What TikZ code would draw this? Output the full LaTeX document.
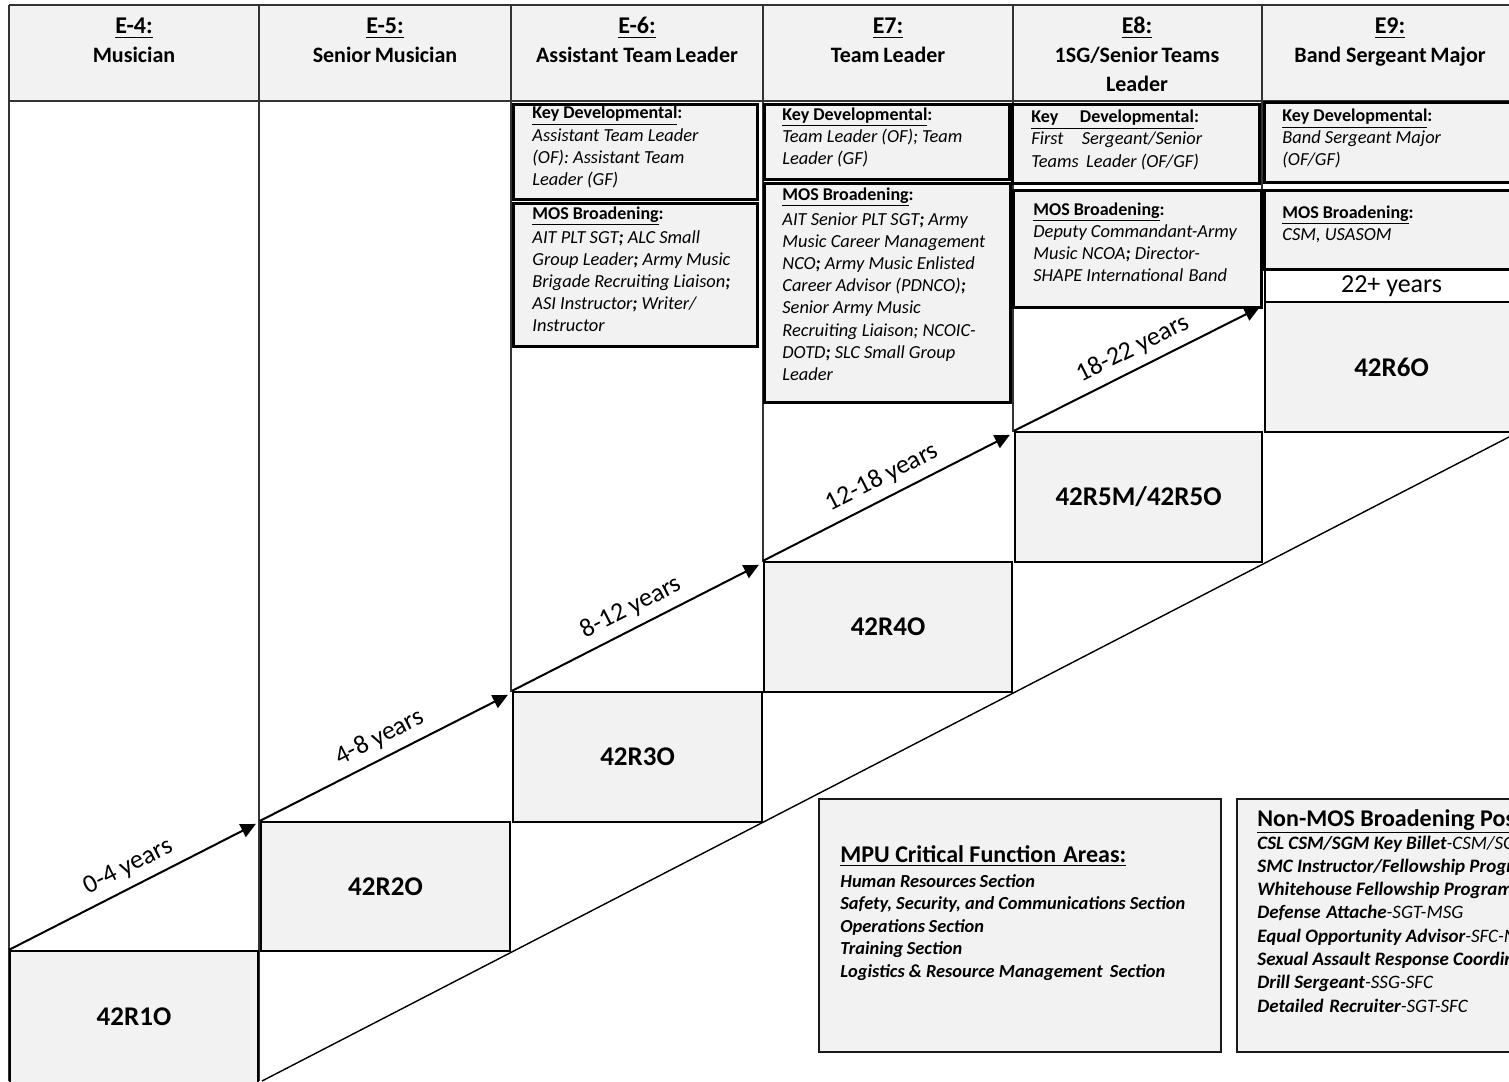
\documentclass[tikz,border=0pt]{standalone}
\usepackage{fontspec}
\setmainfont{Carlito}
\usetikzlibrary{arrows.meta,fit}
\definecolor{boxgray}{HTML}{F2F2F2}
\newcommand\txtlines[6][itl]{\foreach \t [count=\i] in {#6}{\node[#1] (#2-\i) at (#3,{#4+#5*(\i-1)}) {\t};}}
\begin{document}
\begin{tikzpicture}[x=0.5pt,y=-0.5pt,
 sep/.style={draw=black!80, line width=0.8pt},
 codebox/.style={draw=black, line width=1.1pt, fill=boxgray, inner sep=0pt},
 codetext/.style={font=\fontsize{13.5}{15}\selectfont\bfseries, inner sep=0pt, anchor=center},
 infobox/.style={draw=black, line width=1.5pt, fill=boxgray, inner sep=0pt},
 bigbox/.style={draw=black!90, line width=1.1pt, fill=boxgray, inner sep=0pt},
 hgrade/.style={font=\fontsize{12}{14}\selectfont\bfseries, anchor=base, inner sep=0pt},
 hname/.style={font=\fontsize{11}{13}\selectfont\bfseries, anchor=base, inner sep=0pt},
 ttl/.style={font=\fontsize{9}{11}\selectfont\bfseries, anchor=base west, inner sep=0pt},
 itl/.style={font=\fontsize{9.2}{11}\selectfont\itshape, anchor=base west, inner sep=0pt},
 bigttl/.style={font=\fontsize{12}{14}\selectfont\bfseries, anchor=base west, inner sep=0pt},
 mpuitem/.style={font=\fontsize{9.2}{11}\selectfont\bfseries\itshape, anchor=base west, inner sep=0pt},
 nmitem/.style={font=\fontsize{9.5}{11}\selectfont\itshape, anchor=base west, inner sep=0pt},
 yrs/.style={font=\fontsize{13}{15}\selectfont, sloped, pos=0.52, above=4pt, inner sep=0pt},
 arr/.style={-{Triangle[length=7.5pt,width=7pt]}, line width=1pt},
]
\useasboundingbox (0,0) rectangle (1509,1081);
\fill[white] (0,0) rectangle (1509,1081);
\clip (0,0) rectangle (1509,1081);

% header band
\fill[boxgray] (9,5) rectangle (1520,101);
\draw[sep] (9,5) -- (1520,5);
\draw[sep] (9,101) -- (1520,101);

% diagonal lower guide line
\coordinate (d1) at (262,1081);
\coordinate (d2) at (1509,437);
\draw[line width=0.7pt] (d1) -- (d2);

% column separators
\draw[sep] (9,5) -- (9,1081);
\draw[sep] (259,5) -- (259,1081);
\draw[sep] (511,5) -- (511,692);
\draw[sep] (763,5) -- (763,562);
\draw[sep] (1013,5) -- (1013,432);
\draw[sep] (1262,5) -- (1262,302);

% header texts
\node[hgrade] (h4a) at (134,34) {\underline{E-4:}};
\node[hname]  (h4b) at (134,63) {Musician};
\node[hgrade] (h5a) at (385,34) {\underline{E-5:}};
\node[hname]  (h5b) at (385,63) {Senior\,Musician};
\node[hgrade] (h6a) at (637,34) {\underline{E-6:}};
\node[hname]  (h6b) at (637,63) {Assistant Team\,Leader};
\node[hgrade] (h7a) at (888,34) {\underline{E7:}};
\node[hname]  (h7b) at (888,63) {Team\,Leader};
\node[hgrade] (h8a) at (1137,34) {\underline{E8:}};
\node[hname]  (h8b) at (1137,63) {1SG/Senior\,Teams};
\node[hname]  (h8c) at (1137,92) {Leader};
\node[hgrade] (h9a) at (1390,34) {\underline{E9:}};
\node[hname]  (h9b) at (1390,63) {Band Sergeant\,Major};

% grade code boxes
\node[codebox, fit={(10,951) (258,1090)}] (r1) {};
\node[codebox, fit={(261,822) (510,951)}] (r2) {};
\node[codebox, fit={(513,692) (762,822)}] (r3) {};
\node[codebox, fit={(764,562) (1012,692)}] (r4) {};
\node[codebox, fit={(1015,432) (1262,562)}] (r5) {};
\node[codebox, fit={(1265,302) (1518,432)}] (r6) {};
\node[codetext] (r1t) at (134,1017) {42R1O};
\node[codetext] (r2t) at (r2.center) {42R2O};
\node[codetext] (r3t) at (r3.center) {42R3O};
\node[codetext] (r4t) at (r4.center) {42R4O};
\node[codetext] (r5t) at (r5.center) {42R5M/42R5O};
\node[codetext] (r6t) at (r6.center) {42R6O};
\node[draw=black, line width=1.1pt, fill=white, inner sep=0pt, fit={(1265,270) (1518,302)}] (y22) {};
\node[font=\fontsize{13}{15}\selectfont, inner sep=0pt, anchor=center] (y22t) at (y22.center) {22+ years};

% developmental / broadening boxes
\node[infobox, fit={(513,105) (757,199)}] (e6k) {};
\node[infobox, fit={(513,203) (757,346)}] (e6m) {};
\node[infobox, fit={(764,105) (1009,179)}] (e7k) {};
\node[infobox, fit={(764,183) (1010,402)}] (e7m) {};
\node[infobox, fit={(1012,105) (1259,183)}] (e8k) {};
\node[infobox, fit={(1013,190) (1261,307)}] (e8m) {};
\node[infobox, fit={(1264,103) (1518,182)}] (e9k) {};
\node[infobox, fit={(1264,190) (1518,269)}] (e9m) {};

% E-6 texts
\node[ttl] (t6k) at (532,119) {\underline{Key Developmental}:};
\txtlines{l6k}{532}{141}{22}{{Assistant Team Leader},{(OF): Assistant Team},{Leader (GF)}}
\node[ttl] (t6m) at (532,219) {\underline{MOS Broadening}:};
\txtlines{l6m}{532}{243}{22}{{AIT PLT SGT\textbf{;} ALC Small},{Group Leader\textbf{;} Army Music},{Brigade Recruiting Liaison\textbf{;}},{ASI Instructor\textbf{;} Writer/},{Instructor}}

% E7 texts
\node[ttl] (t7k) at (782,120) {\underline{Key Developmental}:};
\txtlines{l7k}{782}{142}{22}{{Team Leader (OF); Team},{Leader (GF)}}
\node[ttl] (t7m) at (782,200) {\underline{MOS Broadening}:};
\txtlines{l7m}{782}{225}{22.2}{{AIT Senior PLT SGT\textbf{;} Army},{Music Career Management},{NCO\textbf{;} Army Music Enlisted},{Career Advisor (PDNCO)\textbf{;}},{Senior Army Music},{Recruiting Liaison; NCOIC-},{DOTD\textbf{;} SLC Small Group},{Leader}}

% E8 texts
\node[ttl] (t8k) at (1031,123) {\underline{Key\hspace{1.2em}Developmental}:};
\txtlines{l8k}{1031}{145}{22}{{First\hspace{1em}Sergeant/Senior},{Teams\hspace{0.4em}Leader (OF/GF)}}
\node[ttl] (t8m) at (1033,215) {\underline{MOS Broadening}:};
\txtlines{l8m}{1033}{237}{22}{{Deputy Commandant-Army},{Music NCOA\textbf{;} Director-},{SHAPE International\hspace{0.3em}Band}}

% E9 texts
\node[ttl] (t9k) at (1282,122) {\underline{Key Developmental}:};
\txtlines{l9k}{1282}{143}{22}{{Band Sergeant Major},{(OF/GF)}}
\node[ttl] (t9m) at (1282,218) {\underline{MOS Broadening}:};
\txtlines{l9m}{1282}{240}{22}{{CSM, USASOM}}

% progression arrows
\draw[arr] (r1.north west) -- node[yrs] (a1) {0-4 years} ([shift={(-4,3)}]r2.north west);
\draw[arr] (r2.north west) -- node[yrs] (a2) {4-8 years} ([shift={(-4,4)}]r3.north west);
\draw[arr] (r3.north west) -- node[yrs] (a3) {8-12 years} ([shift={(-4,4)}]r4.north west);
\draw[arr] (r4.north west) -- node[yrs] (a4) {12-18 years} ([shift={(-4,4)}]r5.north west);
\draw[arr] (r5.north west) -- node[yrs] (a5) {18-22 years} ([shift={(-3,-1)}]e8m.south east);

% MPU box
\node[bigbox, fit={(819,799) (1221,1052)}] (mpu) {};
\node[bigttl] (mput) at (840,862) {\underline{MPU Critical Function\hspace{0.3em}Areas:}};
\txtlines[mpuitem]{mpul}{840}{887}{22.5}{{Human Resources\hspace{0.2em}Section},{Safety, Security, and Communications Section},{Operations\hspace{0.2em}Section},{Training\hspace{0.2em}Section},{Logistics \& Resource Management\hspace{0.4em}Section}}

% Non-MOS box
\node[bigbox, fit={(1237,799) (1530,1052)}] (nm) {};
\node[bigttl] (nmt) at (1257,826) {\underline{Non-MOS Broadening Positions:}};
\txtlines[nmitem]{nml}{1257}{849}{23.3}{{\textbf{CSL CSM/SGM Key Billet}-CSM/SGM},{\textbf{SMC Instructor/Fellowship Program}},{\textbf{Whitehouse Fellowship Program}-},{\textbf{Defense\hspace{0.3em}Attache}-SGT-MSG},{\textbf{Equal Opportunity Advisor}-SFC-MSG},{\textbf{Sexual Assault Response Coordinator}},{\textbf{Drill Sergeant}-SSG-SFC},{\textbf{Detailed\hspace{0.3em}Recruiter}-SGT-SFC}}
\end{tikzpicture}
\end{document}
